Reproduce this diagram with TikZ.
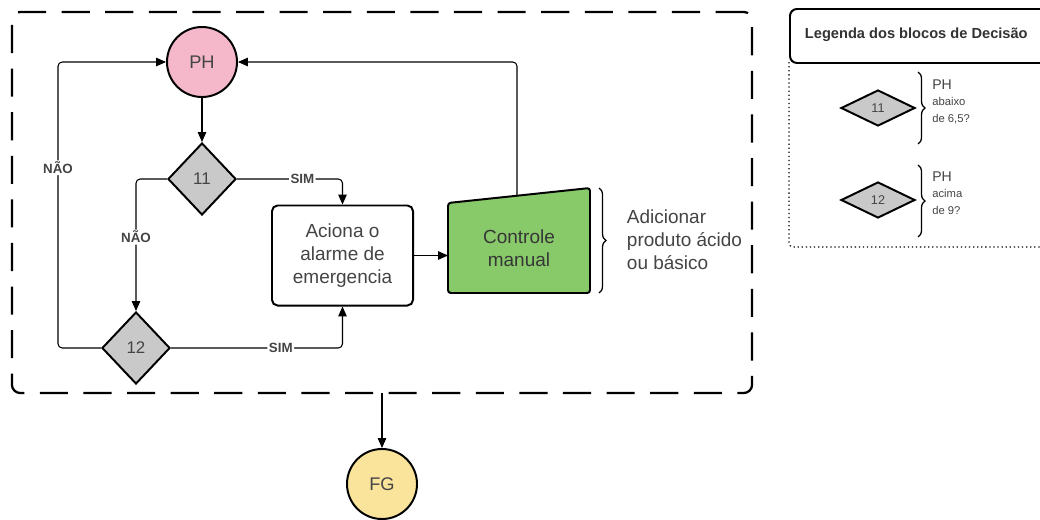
\documentclass[tikz,border=0pt]{standalone}
\usepackage{fontspec}
\setmainfont{Liberation Sans}
\usetikzlibrary{shapes.geometric,arrows.meta,decorations.pathreplacing,calc}
\definecolor{phpink}{HTML}{F4B8CA}
\definecolor{decgray}{HTML}{C9C9C9}
\definecolor{ctrlgreen}{HTML}{88C96A}
\definecolor{fgyellow}{HTML}{FAE39B}
\definecolor{txtgray}{HTML}{444444}
\tikzset{
  shapeline/.style={draw=black,line width=1.4pt},
  terminal/.style={shapeline,circle,minimum size=1.75cm,inner sep=0pt,text=txtgray,font=\fontsize{13}{15}\selectfont},
  decision/.style={shapeline,diamond,fill=decgray,inner sep=0pt,minimum width=1.7cm,minimum height=1.8cm,text=txtgray,font=\fontsize{12}{14}\selectfont},
  legdecision/.style={shapeline,diamond,fill=decgray,inner sep=0pt,minimum width=1.85cm,minimum height=0.9cm,text=txtgray,font=\fontsize{9}{10}\selectfont},
  flow/.style={line width=0.75pt,-{Triangle[length=7pt,width=6pt]},rounded corners=3pt},
  edgelabel/.style={fill=white,inner sep=1pt,font=\bfseries\fontsize{9.5}{11}\selectfont,text=txtgray},
  bodytext/.style={text=txtgray,font=\fontsize{13.5}{16.5}\selectfont,align=center},
  bracket/.style={line width=0.9pt,decorate,decoration={brace,amplitude=5pt}},
}
\begin{document}
\begin{tikzpicture}[x=0.025cm,y=-0.025cm]
\clip (0,0) rectangle (1040,520);
\fill[white] (0,0) rectangle (1040,520);

% dashed frame around the control loop
\node[draw,line width=1.6pt,dash pattern=on 20pt off 11pt,rounded corners=6pt,
      minimum width=18.5cm,minimum height=9.525cm,inner sep=0pt,outer sep=0pt]
      (frame) at (382,202.5) {};

% main flow nodes
\node[terminal,fill=phpink] (ph) at (202,62) {PH};
\node[decision] (d11) at (202,179) {11};
\node[decision] (d12) at (136,348) {12};
\node[shapeline,rounded corners=4pt,fill=white,minimum width=3.525cm,minimum height=2.5cm,
      inner sep=0pt,bodytext] (alarm) at (342.5,255.5) {Aciona o\\alarme de\\emergencia};

% manual input block
\coordinate (ctl) at (448,203);
\coordinate (ctr) at (590,188);
\coordinate (cbr) at (590,293);
\coordinate (cbl) at (448,293);
\filldraw[shapeline,fill=ctrlgreen,rounded corners=2pt] (ctl) -- (ctr) -- (cbr) -- (cbl) -- cycle;
\node[bodytext,text=txtgray!80!black] (ctrl) at (519,248) {Controle\\manual};
\coordinate (ctrltop) at ($(ctl)!0.486!(ctr)$);
\coordinate (ctrlin) at (448,255.5);

\node[terminal,fill=fgyellow] (fg) at (382,484) {FG};

% connectors
\draw[flow] (ph) -- (d11);
\draw[flow] (d11.east) -| node[edgelabel,pos=0.31]{SIM} (alarm.north);
\draw[flow] (d11.west) -| node[edgelabel,pos=0.72]{NÃO} (d12.north);
\draw[flow] (d12.west) -| (58,62) node[edgelabel,pos=0.815]{NÃO} -- (ph.west);
\draw[flow] (d12.east) -| node[edgelabel,pos=0.32]{SIM} (alarm.south);
\draw[flow] (alarm.east) -- (ctrlin);
\draw[flow] (ctrltop) |- (ph.east);
\draw[flow] (frame.south) -- (fg.north);

% note on the manual block
\draw[bracket] (599,188) -- (599,293);
\node[bodytext,align=left,anchor=west] (note) at (622,240) {Adicionar\\produto ácido\\ou básico};

% legend
\node[shapeline,rounded corners=5pt,fill=white,minimum width=7cm,minimum height=1.35cm,
      inner sep=0pt,anchor=north west] (leghead) at (789,8) {};
\node[anchor=west,font=\bfseries\fontsize{10.4}{12}\selectfont,text=black!80] (legtitle) at (800,35) {Legenda dos blocos de Decisão};
\draw[line width=0.9pt,dotted,rounded corners=3pt] (789,62) -- (789,247) -- (1060,247);

\node[legdecision] (l11) at (878,108) {11};
\node[legdecision] (l12) at (878,200) {12};
\draw[bracket] (918,72) -- (918,144);
\draw[bracket] (918,165) -- (918,237);
\node[anchor=north west,text=txtgray,align=left,inner sep=0pt] (t11) at (932,80)
  {{\fontsize{10}{12}\selectfont PH}\\[-1pt]{\fontsize{8}{10.5}\selectfont abaixo}\\{\fontsize{8}{10.5}\selectfont de 6,5?}};
\node[anchor=north west,text=txtgray,align=left,inner sep=0pt] (t12) at (932,172)
  {{\fontsize{10}{12}\selectfont PH}\\[-1pt]{\fontsize{8}{10.5}\selectfont acima}\\{\fontsize{8}{10.5}\selectfont de 9?}};
\end{tikzpicture}
\end{document}
